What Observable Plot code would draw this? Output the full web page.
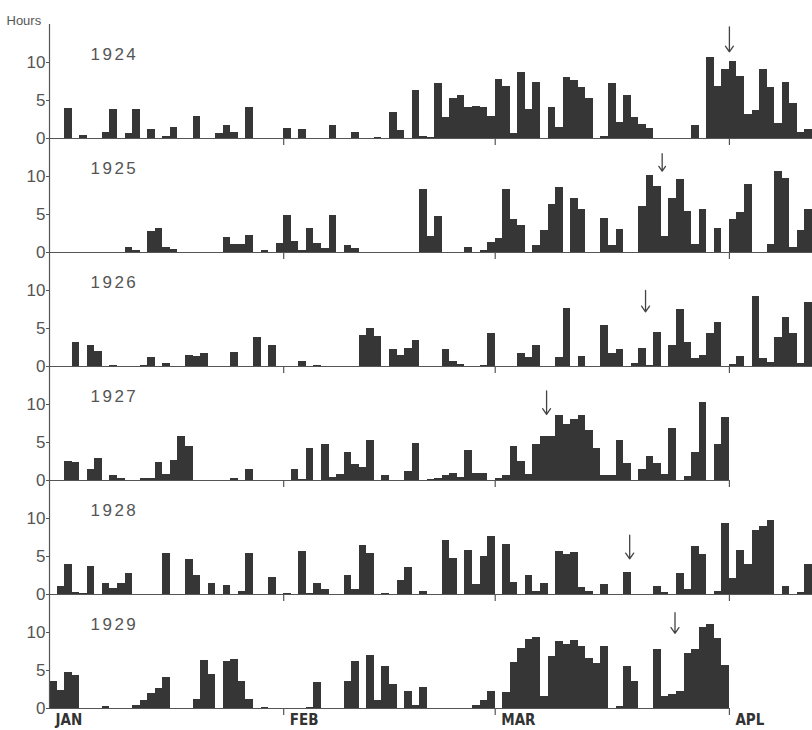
<!DOCTYPE html>
<html><head><meta charset="utf-8">
<script src="https://cdn.jsdelivr.net/npm/d3@7"></script>
<script src="https://cdn.jsdelivr.net/npm/@observablehq/plot@0.6"></script>
<style>
body{margin:0;background:#fff;}
#chart svg{display:block;}
</style></head><body><div id="chart"></div>
<script>
// Daily bright-sunshine hours, day 0 = 1 January
const years = [1924, 1925, 1926, 1927, 1928, 1929];
const hours1924 = [0,0,3.9,0,0.4,0,0,0.8,3.8,0, 0.7,3.8,0,1.2,0,0.2,1.5,0,0,2.9, 0,0,0.7,1.7,0.8,0,4.1,0,0,0, 0,1.3,0,1.2,0,0,0,1.65,0,0, 0.8,0,0,0.1,0,3.4,1.1,0,6.3,0.3, 0.1,7.3,2.7,5.3,5.6,4.1,4.2,4.1,2.9,7.7, 6.8,0.65,8.7,3.8,7.4,0,4.1,1.4,8.0,7.6, 6.7,5.3,0,0.2,7.2,2.1,5.6,2.7,1.8,1.3, 0,0,0,0,0,1.7,0,10.7,6.8,9.1, 10.1,8.2,3.1,3.7,9.1,6.7,2.0,7.4,4.6,0.8, 1.2];
const hours1925 = [0,0,0,0,0,0,0,0,0,0, 0.6,0.2,0,2.7,3.2,0.7,0.35,0,0,0, 0,0,0,2.0,1.0,1.05,2.3,0,0.2,0, 1.2,4.9,1.4,0.2,3.2,1.2,0.5,4.9,0,0.9, 0.5,0,0,0,0,0,0,0,0,8.3, 2.1,4.7,0,0,0,0.65,0,0.2,1.3,1.9, 8.3,4.4,3.5,0,0.9,2.85,6.3,8.6,0,7.1, 5.7,0,0,4.5,0.9,3.0,0,0,6.05,10.1, 8.7,2.1,7.1,9.6,5.4,1.1,5.6,0,3.1,0, 4.3,5.3,8.9,0,0,1.1,10.7,9.8,0.7,2.9, 5.7];
const hours1926 = [0,0,0,3.2,0,2.7,2.0,0,0.1,0, 0,0,0.1,1.2,0,0.4,0,0,1.5,1.3, 1.75,0,0,0,1.9,0,0,3.8,0,2.7, 0,0,0,0.6,0,0.15,0,0,0,0, 0,4.1,5.0,4.0,0,2.3,1.45,2.4,3.4,0, 0,0,2.2,0.65,0.2,0,0,0.1,4.3,0, 0,0,1.7,1.2,2.8,0,0,1.15,7.6,0, 1.3,0,0,5.4,1.7,2.2,0,0.35,2.4,0.1, 4.5,0,2.8,7.5,3.2,1.0,1.4,4.4,5.8,0, 0.25,1.3,0,9.2,1.0,0.5,3.8,6.4,4.4,0.35, 8.4];
const hours1927 = [0,0,2.5,2.4,0,1.45,2.85,0,0.65,0.3, 0,0,0.2,0.2,2.4,0.8,2.6,5.8,4.5,0, 0,0,0,0,0.2,0,1.4,0,0,0, 0,0,1.45,0.1,4.2,0,4.7,0.4,0.75,3.7, 2.1,1.7,5.2,0,0.6,0,0,1.2,4.9,0, 0.1,0.2,0.65,0.95,0.35,3.9,0.95,0.95,0,0.3, 0.65,4.5,2.5,0.85,4.7,5.8,5.8,8.55,7.4,8.0, 8.55,6.6,4.2,0.65,0.65,5.3,2.3,0,1.4,3.2, 2.2,0.85,6.9,0,0.55,3.7,10.2,0,4.7,8.3];
const hours1928 = [0,1.0,4.0,0.2,0.1,3.7,0,1.5,0.8,1.4, 2.7,0,0,0,0,5.35,0,0,4.6,2.45, 0,1.45,0,1.2,0,0.4,5.4,0,0,2.3, 0,0.15,0,5.6,0.1,1.5,0.6,0,0,2.5, 0.65,6.4,5.35,0,0.15,0,1.9,3.5,0,0.45, 0,0,7.1,4.8,0,5.8,1.3,5.0,7.6,0, 6.6,1.6,0,2.5,0.45,1.5,0,5.65,5.3,5.5, 0.9,0.45,0,1.3,0,0,2.9,0,0,0, 1.1,0.2,0,2.7,0.6,6.3,5.3,0,0.4,9.4, 2.1,5.8,3.9,8.4,8.9,9.7,0,1.05,0,0.2, 4.0];
const hours1929 = [3.6,2.4,4.8,4.35,0,0,0,0.2,0,0, 0,0.45,1.05,2.0,2.6,4.1,0,0,0,1.25, 6.35,4.5,0,6.2,6.5,3.55,1.25,0,0.1,0, 0,0,0,0,0.1,3.45,0,0,0,3.6, 6.2,0,7.0,1.1,5.55,3.2,0,2.3,0.4,2.8, 0,0,0,0,0,0,0.45,1.0,2.2,0, 2.1,6.05,7.9,9.1,9.3,1.6,6.8,8.8,8.4,8.9, 8.1,6.6,5.9,8.2,0,0.25,5.5,3.5,0,0, 7.8,1.6,1.8,2.3,7.3,7.8,10.7,11.0,9.2,5.7];
const series = [hours1924, hours1925, hours1926, hours1927, hours1928, hours1929];

// Arrow markers (day of year, top and bottom in hours)
const arrowDays = [90.0, 81.1, 78.9, 65.8, 76.8, 82.8];
const arrowTops = [14.7, 13.0, 10.0, 11.8, 7.8, 12.6];
const arrowBottoms = [11.4, 10.7, 7.2, 8.7, 4.7, 9.9];

// Axis labels
const monthDays = [0, 31, 59, 90];
const monthLabels = ["JAN", "FEB", "MAR", "APL"];
const yTicks = [0, 5, 10];
const yLabel = "Hours";
const dayCount = 101;
const yMax = 15;

const bars = years.flatMap((year, k) => series[k].map((hours, day) => ({year, day, hours}))).filter(d => d.hours > 0);
const baselines = years.map((year, k) => ({year, end: series[k].length}));
const arrows = years.map((year, k) => ({year, day: arrowDays[k], top: arrowTops[k], bottom: arrowBottoms[k]}));
const monthText = monthDays.map((day, i) => ({day, label: monthLabels[i], year: years[years.length - 1]}));

const chart = Plot.plot({
  width: 812,
  height: 730,
  marginTop: 24,
  marginBottom: 22,
  marginLeft: 49,
  marginRight: 0,
  x: {domain: [0, dayCount]},
  y: {domain: [0, yMax]},
  fy: {domain: years, padding: 0, axis: null},
  style: {fontFamily: "'Liberation Sans', Arial, sans-serif", color: "#555", background: "#fff", overflow: "visible"},
  marks: [
    Plot.rect(bars, {x1: "day", x2: d => d.day + 1, y1: 0, y2: "hours", fy: "year", fill: "#363636", shapeRendering: "crispEdges"}),
    Plot.ruleY(baselines, {y: 0, x1: 0, x2: "end", fy: "year", stroke: "#555", strokeWidth: 1.2}),
    Plot.ruleX([0], {stroke: "#555", strokeWidth: 1.2}),
    Plot.axisY({ticks: yTicks, tickSize: 3, tickPadding: 1, fontSize: 17, label: null}),
    Plot.axisX({ticks: monthDays.slice(1), tickSize: 7, tickFormat: () => "", label: null, facetAnchor: null, strokeWidth: 1.2}),
    Plot.text(years, {fy: d => d, text: d => String(d), frameAnchor: "top-left", dx: 41, dy: 30, textAnchor: "start", lineAnchor: "middle", fontSize: 17, fill: "#555"}),
    Plot.text([{year: years[0], label: yLabel}], {fy: "year", text: "label", frameAnchor: "top-left", dx: -43, dy: -4, textAnchor: "start", lineAnchor: "middle", fontSize: 13, fill: "#555"}),
    Plot.arrow(arrows, {x1: "day", x2: "day", y1: "top", y2: "bottom", fy: "year", stroke: "#444", strokeWidth: 1.3, headLength: 8, headAngle: 70}),
    Plot.text(monthText, {x: "day", y: 0, fy: "year", text: "label", textAnchor: "start", lineAnchor: "middle", dx: 6, dy: 12, fontSize: 15, fontWeight: "bold", fontFamily: "'DejaVu Sans Condensed', 'DejaVu Sans', sans-serif", fill: "#333"})
  ]
});
const yearNames = years.map(String);
d3.select(chart).selectAll("text")
  .filter(function() { return yearNames.includes(this.textContent); })
  .style("letter-spacing", "2.5px");
document.getElementById("chart").appendChild(chart);
</script>
</body></html>
